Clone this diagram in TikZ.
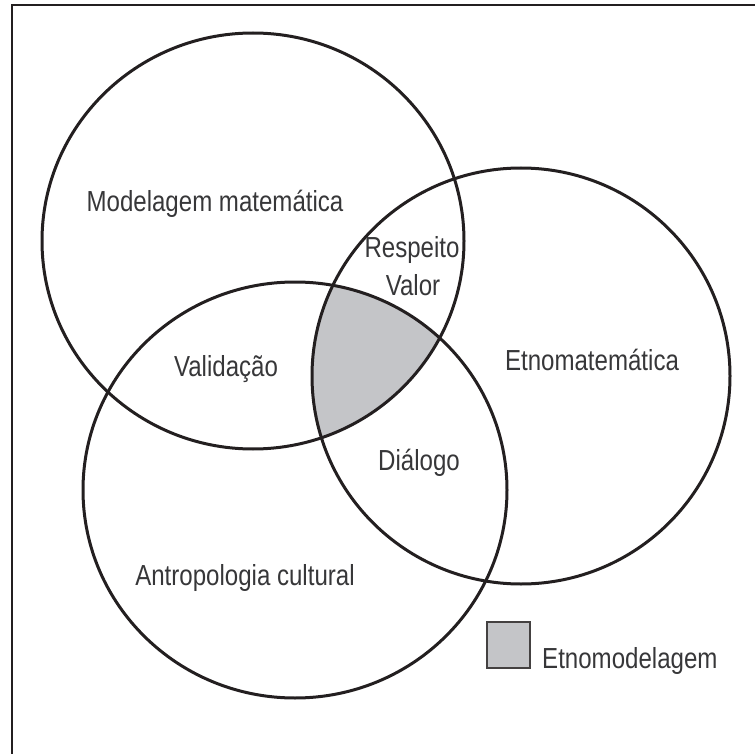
\documentclass[tikz,border=0pt]{standalone}
\usepackage{fontspec}
\setmainfont{Liberation Sans}[FakeStretch=0.83]
\definecolor{ink}{RGB}{35,31,32}
\definecolor{txt}{RGB}{55,55,57}
\definecolor{etnogray}{RGB}{196,197,200}
\begin{document}
\begin{tikzpicture}[x=1pt,y=-1pt,
  lbl/.style={anchor=base,inner sep=0pt,text=txt,font=\fontsize{29}{31}\selectfont},
  ring/.style={draw=ink,line width=3pt}]
\useasboundingbox (0,0) rectangle (755,754);
% frame
\draw[ink,line width=1.6pt] (12,754) -- (12,5) -- (755,5);
% shaded intersection
\begin{scope}
  \clip (253,241) ellipse [x radius=211, y radius=208];
  \clip (521,376) ellipse [x radius=209, y radius=208];
  \fill[fill=etnogray] (295,490) ellipse [x radius=212, y radius=208];
\end{scope}
% circles
\draw[ring] (253,241) ellipse [x radius=211, y radius=208];
\draw[ring] (521,376) ellipse [x radius=209, y radius=208];
\draw[ring] (295,490) ellipse [x radius=212, y radius=208];
% labels
\node[lbl] (mm) at (215,212) {Modelagem matemática};
\node[lbl] (re) at (412,258) {Respeito};
\node[lbl] (va) at (413,295) {Valor};
\node[lbl] (vd) at (226,376) {Validação};
\node[lbl] (et) at (592,370) {Etnomatemática};
\node[lbl] (di) at (419,470) {Diálogo};
\node[lbl] (an) at (245,585) {Antropologia cultural};
% legend
\node[draw=ink!85,fill=etnogray,line width=2.4pt,minimum width=43pt,minimum height=46pt,inner sep=0pt] (lg) at (508.5,645) {};
\node[lbl,anchor=base west] (lt) at (542,668) {Etnomodelagem};
\end{tikzpicture}
\end{document}
